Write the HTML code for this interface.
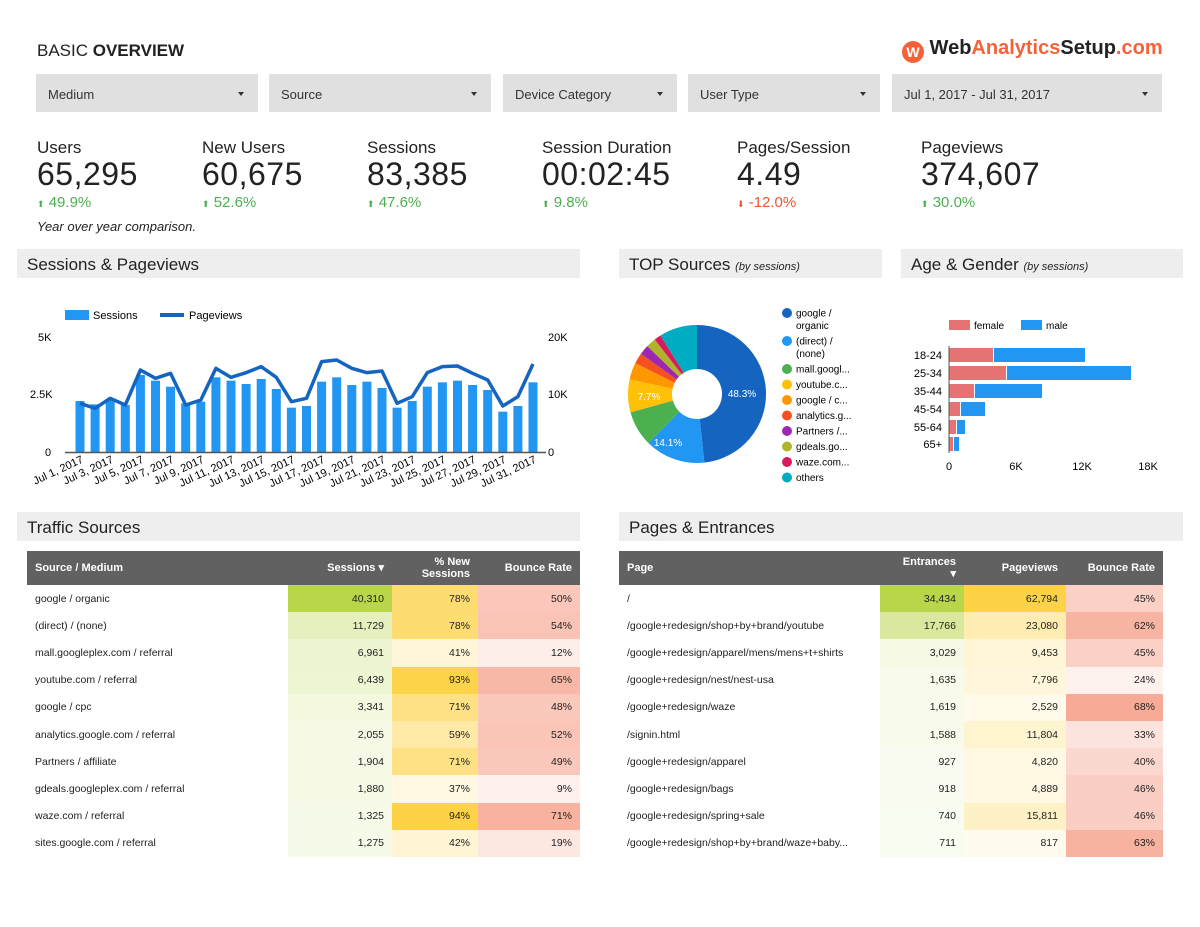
<!DOCTYPE html>
<html><head><meta charset="utf-8">
<style>
*{margin:0;padding:0;box-sizing:border-box}
body{width:1200px;height:927px;background:#fff;font-family:"Liberation Sans",sans-serif;color:#222;position:relative;overflow:hidden}
.a{position:absolute;white-space:nowrap}
.flt{position:absolute;top:74px;height:38px;background:#e0e0e0;font-size:13px;color:#333;padding:13px 0 0 12px}
.flt:after{content:"";position:absolute;right:14px;top:18px;border:3px solid transparent;border-top:4px solid #333}
.kl{font-size:17px;top:138px}
.kv{font-size:32px;top:156px;letter-spacing:0.5px}
.kd{font-size:15px;top:194px;color:#4caf50}
.sec{position:absolute;height:29px;background:#eeeeee;font-size:17px;padding:6px 0 0 10px;color:#222}
.sec i{font-size:11px}
table{position:absolute;border-collapse:collapse;font-size:10.5px;color:#222}
th{background:#616161;color:#fff;font-size:11px;font-weight:bold;height:34px;text-align:right;padding:0 8px;line-height:12px}
th:first-child{text-align:left}
td{height:27.2px;padding:0 8px;text-align:right}
td:first-child{text-align:left}
</style></head><body>
<div class="a" style="left:37px;top:41px;font-size:17px">BASIC <b>OVERVIEW</b></div>
<div class="a" style="left:902px;top:37px;font-size:20px;font-weight:bold"><span style="display:inline-block;width:22px;height:22px;border-radius:50%;background:#f4623a;color:#fff;font-size:14px;text-align:center;line-height:22px;vertical-align:-3px">W</span> Web<span style="color:#f4623a">Analytics</span>Setup<span style="color:#f4623a">.com</span></div>

<div class="flt" style="left:36px;width:222px">Medium</div>
<div class="flt" style="left:269px;width:222px">Source</div>
<div class="flt" style="left:503px;width:174px">Device Category</div>
<div class="flt" style="left:688px;width:192px">User Type</div>
<div class="flt" style="left:892px;width:270px">Jul 1, 2017 - Jul 31, 2017</div>

<div class="a kl" style="left:37px">Users</div><div class="a kv" style="left:37px">65,295</div><div class="a kd" style="left:37px"><span style="font-size:9px">⬆</span> 49.9%</div>
<div class="a kl" style="left:202px">New Users</div><div class="a kv" style="left:202px">60,675</div><div class="a kd" style="left:202px"><span style="font-size:9px">⬆</span> 52.6%</div>
<div class="a kl" style="left:367px">Sessions</div><div class="a kv" style="left:367px">83,385</div><div class="a kd" style="left:367px"><span style="font-size:9px">⬆</span> 47.6%</div>
<div class="a kl" style="left:542px">Session Duration</div><div class="a kv" style="left:542px">00:02:45</div><div class="a kd" style="left:542px"><span style="font-size:9px">⬆</span> 9.8%</div>
<div class="a kl" style="left:737px">Pages/Session</div><div class="a kv" style="left:737px">4.49</div><div class="a kd" style="left:737px;color:#e8562a"><span style="font-size:9px">⬇</span> -12.0%</div>
<div class="a kl" style="left:921px">Pageviews</div><div class="a kv" style="left:921px">374,607</div><div class="a kd" style="left:921px"><span style="font-size:9px">⬆</span> 30.0%</div>
<div class="a" style="left:37px;top:219px;font-size:13px;font-style:italic">Year over year comparison.</div>

<div class="sec" style="left:17px;top:249px;width:563px">Sessions &amp; Pageviews</div>
<div class="sec" style="left:619px;top:249px;width:263px">TOP Sources <i>(by sessions)</i></div>
<div class="sec" style="left:901px;top:249px;width:282px">Age &amp; Gender <i>(by sessions)</i></div>
<div class="sec" style="left:17px;top:512px;width:563px">Traffic Sources</div>
<div class="sec" style="left:619px;top:512px;width:564px">Pages &amp; Entrances</div>

<svg class="a" style="left:0;top:0" width="1200" height="927" id="s" font-family="Liberation Sans, sans-serif"></svg>

<table id="t1" style="left:27px;top:551px;width:553px"></table>
<table id="t2" style="left:619px;top:551px;width:544px"></table>

<script>
var s=document.getElementById('s'),h='';
// legend
h+='<rect x="65" y="310" width="24" height="10" fill="#2196f3"/><text x="93" y="319" font-size="11">Sessions</text>';
h+='<rect x="160" y="313" width="24" height="4" fill="#1565c0"/><text x="189" y="319" font-size="11">Pageviews</text>';
h+='<text x="38" y="341" font-size="11">5K</text><text x="30" y="398" font-size="11">2.5K</text><text x="45" y="456" font-size="11">0</text>';
h+='<text x="548" y="341" font-size="11">20K</text><text x="548" y="398" font-size="11">10K</text><text x="548" y="456" font-size="11">0</text>';
var bt=[333,343,330,345,255,272,290,340,335,262,272,282,267,297,353,348,275,262,285,275,294,353,333,290,277,272,285,300,365,348,277];
var lv=[340,355,325,345,240,265,250,345,330,235,262,248,230,262,335,325,215,210,235,248,243,340,320,248,230,228,250,270,348,320,222];
var pts=[];
for(var i=0;i<31;i++){var cx=80+i*15.1,y=290+bt[i]/3;h+='<rect x="'+(cx-4.5)+'" y="'+y+'" width="9" height="'+(452-y)+'" fill="#2196f3"/>';pts.push(cx+','+(290+lv[i]/3));}
h+='<line x1="65" y1="452.5" x2="546" y2="452.5" stroke="#555" stroke-width="1.5"/>';
h+='<polyline points="'+pts.join(' ')+'" fill="none" stroke="#1565c0" stroke-width="3.5" stroke-linejoin="round"/>';
for(var d=1;d<=31;d+=2){var cx=80+(d-1)*15.1;h+='<text transform="translate('+(cx+4)+',462) rotate(-25)" text-anchor="end" font-size="11">Jul '+d+', 2017</text>';}
// donut
var sl=[[48.3,'#1565c0'],[14.1,'#2196f3'],[8.3,'#4caf50'],[7.7,'#ffc107'],[4,'#ff9800'],[2.5,'#f4511e'],[2.3,'#9c27b0'],[2.3,'#afb42b'],[1.6,'#d81b60'],[8.9,'#00acc1']];
var cx=697,cy=394,R=69,r=25,a0=-Math.PI/2;
sl.forEach(function(q){var a1=a0+q[0]/100*2*Math.PI,lg=q[0]>50?1:0;
function p(rr,a){return (cx+rr*Math.cos(a)).toFixed(2)+','+(cy+rr*Math.sin(a)).toFixed(2);}
h+='<path d="M'+p(R,a0)+'A'+R+','+R+' 0 '+lg+' 1 '+p(R,a1)+'L'+p(r,a1)+'A'+r+','+r+' 0 '+lg+' 0 '+p(r,a0)+'Z" fill="'+q[1]+'"/>';a0=a1;});
h+='<text x="742" y="397" fill="#fff" font-size="10" text-anchor="middle">48.3%</text><text x="668" y="446" fill="#fff" font-size="10" text-anchor="middle">14.1%</text><text x="649" y="400" fill="#fff" font-size="10" text-anchor="middle">7.7%</text>';
var lg=[['google /','organic'],['(direct) /','(none)'],['mall.googl...'],['youtube.c...'],['google / c...'],['analytics.g...'],['Partners /...'],['gdeals.go...'],['waze.com...'],['others']];
var y=313;
lg.forEach(function(l,i){h+='<circle cx="787" cy="'+y+'" r="5" fill="'+sl[i][1]+'"/>';h+='<text x="796" y="'+(y+3.5)+'" font-size="10">'+l[0]+'</text>';if(l[1]){h+='<text x="796" y="'+(y+16)+'" font-size="10">'+l[1]+'</text>';y+=28}else y+=15.5;});
// age
h+='<rect x="949" y="320" width="21" height="10" fill="#e57373"/><text x="974" y="329" font-size="10">female</text><rect x="1021" y="320" width="21" height="10" fill="#2196f3"/><text x="1046" y="329" font-size="10">male</text>';
var ag=[['18-24',348,993,1085],['25-34',366,1006,1131],['35-44',384,974,1042],['45-54',402,960,985],['55-64',420,956,965],['65+',437,953,959]];
ag.forEach(function(g){h+='<rect x="949" y="'+g[1]+'" width="'+(g[2]-949)+'" height="14" fill="#e57373"/><rect x="'+(g[2]+1)+'" y="'+g[1]+'" width="'+(g[3]-g[2]-1)+'" height="14" fill="#2196f3"/><text x="942" y="'+(g[1]+11)+'" font-size="11" text-anchor="end">'+g[0]+'</text>';});
h+='<line x1="949" y1="346" x2="949" y2="453" stroke="#555"/>';
[['0',949],['6K',1016],['12K',1082],['18K',1148]].forEach(function(t){h+='<text x="'+t[1]+'" y="470" font-size="11" text-anchor="middle">'+t[0]+'</text>';});
s.innerHTML=h;

function mix(c,t){var w=[255,255,255];return 'rgb('+c.map(function(v,i){return Math.round(w[i]+(v-w[i])*t)}).join(',')+')';}
var G=[185,213,74],Y=[253,210,70],P=[247,170,150];
function row(cells,cols){return '<tr>'+cells.map(function(c,i){return '<td style="'+(cols[i]?'background:'+cols[i]:'')+'">'+c+'</td>'}).join('')+'</tr>';}
var d1=[['google / organic','40,310',78,50],['(direct) / (none)','11,729',78,54],['mall.googleplex.com / referral','6,961',41,12],['youtube.com / referral','6,439',93,65],['google / cpc','3,341',71,48],['analytics.google.com / referral','2,055',59,52],['Partners / affiliate','1,904',71,49],['gdeals.googleplex.com / referral','1,880',37,9],['waze.com / referral','1,325',94,71],['sites.google.com / referral','1,275',42,19]];
var t='<tr><th style="width:261px">Source / Medium</th><th style="width:104px">Sessions &#9662;</th><th style="width:86px">% New<br>Sessions</th><th>Bounce Rate</th></tr>';
d1.forEach(function(r){var sv=parseInt(r[1].replace(',',''));t+=row([r[0],r[1],r[2]+'%',r[3]+'%'],[null,mix(G,0.1+0.9*sv/40310),mix(Y,0.15+0.85*(r[2]-37)/57),mix(P,0.06+0.85*r[3]/71)]);});
document.getElementById('t1').innerHTML=t;
var d2=[['/','34,434','62,794',45],['/google+redesign/shop+by+brand/youtube','17,766','23,080',62],['/google+redesign/apparel/mens/mens+t+shirts','3,029','9,453',45],['/google+redesign/nest/nest-usa','1,635','7,796',24],['/google+redesign/waze','1,619','2,529',68],['/signin.html','1,588','11,804',33],['/google+redesign/apparel','927','4,820',40],['/google+redesign/bags','918','4,889',46],['/google+redesign/spring+sale','740','15,811',46],['/google+redesign/shop+by+brand/waze+baby...','711','817',63]];
t='<tr><th style="width:261px">Page</th><th style="width:84px">Entrances<br>&#9662;</th><th style="width:102px">Pageviews</th><th>Bounce Rate</th></tr>';
d2.forEach(function(r){var e=parseInt(r[1].replace(',','')),p=parseInt(r[2].replace(',',''));t+=row([r[0],r[1],r[2],r[3]+'%'],[null,mix(G,0.06+0.94*e/34434),mix(Y,0.08+0.92*p/62794),mix(P,0.15+0.85*(r[3]-24)/44)]);});
document.getElementById('t2').innerHTML=t;
</script>
</body></html>
